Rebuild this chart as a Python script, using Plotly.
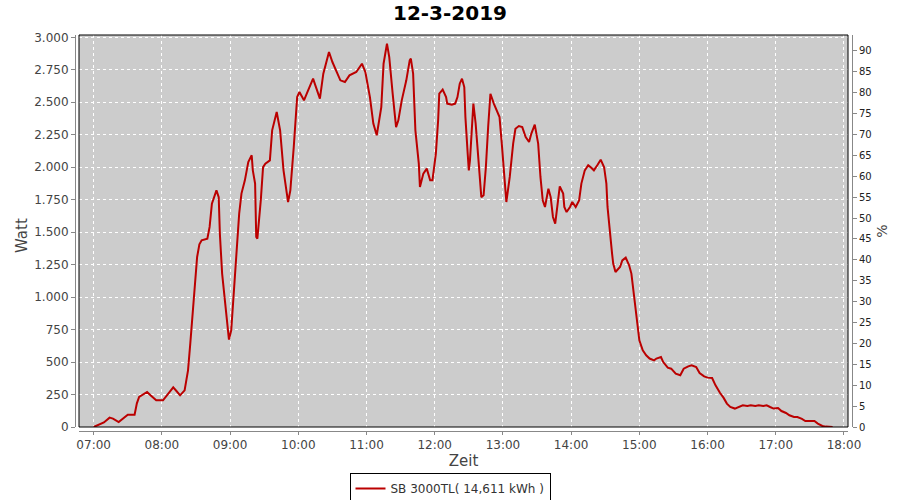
import plotly.graph_objects as go

DAY = "2019-03-12"
times = ["07:00","07:09","07:14","07:17","07:22","07:30","07:36","07:38","07:40","07:47","07:50","07:55","08:01","08:05",
         "08:10","08:13","08:16","08:20","08:23","08:25","08:27","08:29","08:31","08:33","08:35","08:40","08:42","08:44",
         "08:48","08:50","08:51","08:53","08:55","08:57","08:59","09:01","09:03","09:06","09:08","09:10","09:13","09:16",
         "09:19","09:20","09:22","09:23","09:24","09:27","09:29","09:31","09:35","09:37","09:41","09:44","09:47","09:51",
         "09:53","09:56","09:59","10:01","10:05","10:08","10:13","10:15","10:19","10:22","10:27","10:30","10:34","10:37",
         "10:41","10:45","10:51","10:56","10:59","11:03","11:06","11:09","11:13","11:15","11:18","11:20","11:23","11:26",
         "11:28","11:31","11:35","11:38","11:39","11:41","11:43","11:46","11:47","11:50","11:53","11:56","11:58","12:01",
         "12:03","12:04","12:07","12:10","12:11","12:15","12:18","12:20","12:22","12:24","12:26","12:27","12:29","12:30",
         "12:31","12:33","12:34","12:36","12:38","12:40","12:41","12:43","12:45","12:47","12:49","12:52","12:55","12:57",
         "12:59","13:02","13:03","13:06","13:09","13:11","13:14","13:17","13:20","13:23","13:25","13:28","13:31","13:33",
         "13:35","13:37","13:39","13:40","13:42","13:44","13:46","13:48","13:50","13:53","13:54","13:56","13:59","14:01",
         "14:04","14:07","14:09","14:12","14:15","14:17","14:20","14:23","14:26","14:29","14:31","14:32","14:34","14:36",
         "14:37","14:39","14:43","14:45","14:48","14:51","14:53","14:55","14:57","14:59","15:00","15:03","15:06","15:09",
         "15:13","15:15","15:19","15:21","15:25","15:28","15:32","15:36","15:39","15:43","15:46","15:50","15:53","15:57",
         "16:00","16:04","16:07","16:11","16:14","16:17","16:20","16:24","16:28","16:31","16:35","16:38","16:42","16:45",
         "16:49","16:52","16:55","16:58","17:02","17:05","17:09","17:12","17:16","17:19","17:23","17:26","17:34","17:37",
         "17:41","17:44","17:50"]
watts = [0,35,72,65,38,95,95,182,231,270,244,205,205,250,
         305,275,244,282,436,644,847,1106,1309,1406,1437,1450,1540,1720,
         1822,1770,1489,1181,1001,821,673,744,1001,1309,1643,1797,1899,2040,
         2092,1976,1874,1463,1450,1745,2001,2028,2053,2284,2425,2284,1976,1732,
         1822,2155,2540,2579,2515,2579,2682,2630,2528,2720,2887,2810,2733,2669,
         2656,2707,2733,2797,2733,2540,2336,2246,2463,2797,2951,2848,2566,2309,
         2361,2515,2669,2823,2836,2720,2284,2028,1848,1951,1989,1899,1899,2105,
         2361,2566,2597,2540,2490,2482,2490,2540,2643,2682,2617,2386,2105,1976,
         2053,2309,2490,2336,2105,1874,1770,1784,2001,2309,2566,2490,2425,2386,
         2182,1848,1732,1925,2182,2296,2317,2309,2232,2194,2259,2328,2182,1925,
         1745,1694,1797,1835,1770,1617,1566,1720,1853,1797,1694,1655,1694,1732,
         1694,1745,1874,1976,2015,2001,1976,2015,2058,2000,1874,1694,1489,1335,
         1258,1193,1232,1283,1304,1245,1181,1027,873,770,667,590,552,527,
         513,527,539,500,457,449,411,398,449,467,475,462,416,390,
         380,377,321,262,226,180,154,142,154,167,162,167,162,167,
         162,167,154,142,146,123,108,90,77,77,62,46,46,26,
         8,3,0]

title_text = "12-3-2019"
series_name = "SB 3000TL( 14,611 kWh )"
x_title = "Zeit"
y_title = "Watt"
y2_title = "%"

xs = [f"{DAY} {t}:00" for t in times]

FONT = "DejaVu Sans"
W, H = 900, 500
l, r, t, b = 75, 48, 35, 69
pw = W - l - r
ph = H - t - b

fig = go.Figure()
fig.add_trace(go.Scatter(x=xs, y=watts, mode="lines", name=series_name,
                         line=dict(color="#BB0000", width=2), hoverinfo="skip"))
fig.add_trace(go.Scatter(x=[None], y=[None], yaxis="y2", showlegend=False, hoverinfo="skip"))

fig.update_layout(
    width=W, height=H,
    margin=dict(l=l, r=r, t=t, b=b, autoexpand=False),
    paper_bgcolor="white", plot_bgcolor="#CCCCCC",
    separators=",.",
    font=dict(family=FONT, size=11, color="#444444"),
    title=dict(text=title_text, x=0.5, xref="container", xanchor="center",
               y=1 - 13 / H, yref="container", yanchor="middle",
               font=dict(family=FONT, size=20, color="black", weight="bold")),
    xaxis=dict(type="date", domain=[4 / pw, 1 - 4 / pw], anchor="free", position=0,
               range=[f"{DAY} 06:47:06", f"{DAY} 18:03:32"],
               dtick=3600000, tick0=f"{DAY} 07:00", tickformat="%H:%M",
               showgrid=True, gridcolor="white", griddash="3px,3px", gridwidth=1,
               showline=True, linecolor="#888888", linewidth=1,
               ticks="outside", ticklen=3, tickcolor="#888888",
               tickfont=dict(size=12, color="#444444"), automargin=False,
               title=dict(text=x_title, font=dict(size=15, color="#444444"), standoff=4),
               zeroline=False),
    yaxis=dict(domain=[4 / ph, 1], anchor="free", position=0,
               range=[0, 3018], dtick=250, tick0=0, tickformat=",d",
               showgrid=True, gridcolor="white", griddash="3px,3px", gridwidth=1,
               showline=True, linecolor="#888888", linewidth=1,
               ticks="outside", ticklen=4, tickcolor="#888888",
               tickfont=dict(size=12, color="#444444"), automargin=False,
               zeroline=False),
    yaxis2=dict(overlaying="y", side="right", anchor="free", position=1,
                range=[0, 93.8], dtick=5, tick0=0,
                showgrid=False, zeroline=False,
                showline=True, linecolor="#888888", linewidth=1,
                ticks="outside", ticklen=4, tickcolor="#888888", automargin=False,
                tickfont=dict(size=10, color="#222222"),
                title=dict(text=y2_title, font=dict(size=14, color="#444444"), standoff=6)),
    legend=dict(orientation="h", x=(450 - l) / pw, xanchor="center", y=(431 - 473) / ph,
                yanchor="top", bordercolor="black", borderwidth=1, bgcolor="white",
                font=dict(size=12, color="#333333"), itemwidth=30),
    showlegend=True,
)
fig.add_annotation(text=y_title, xref="paper", yref="paper", x=(22 - l) / pw, y=(431 - 236) / ph,
                   xanchor="center", yanchor="middle", textangle=-90, showarrow=False,
                   font=dict(family=FONT, size=15, color="#444444"))
fig.add_shape(type="rect", xref="x domain", yref="y domain", x0=0, x1=1, y0=0, y1=1,
              line=dict(color="black", width=1), fillcolor="rgba(0,0,0,0)", layer="above")

fig.write_html("out.html", config={"displayModeBar": False},
               post_script="document.body.style.margin='0';document.body.style.padding='0';")
